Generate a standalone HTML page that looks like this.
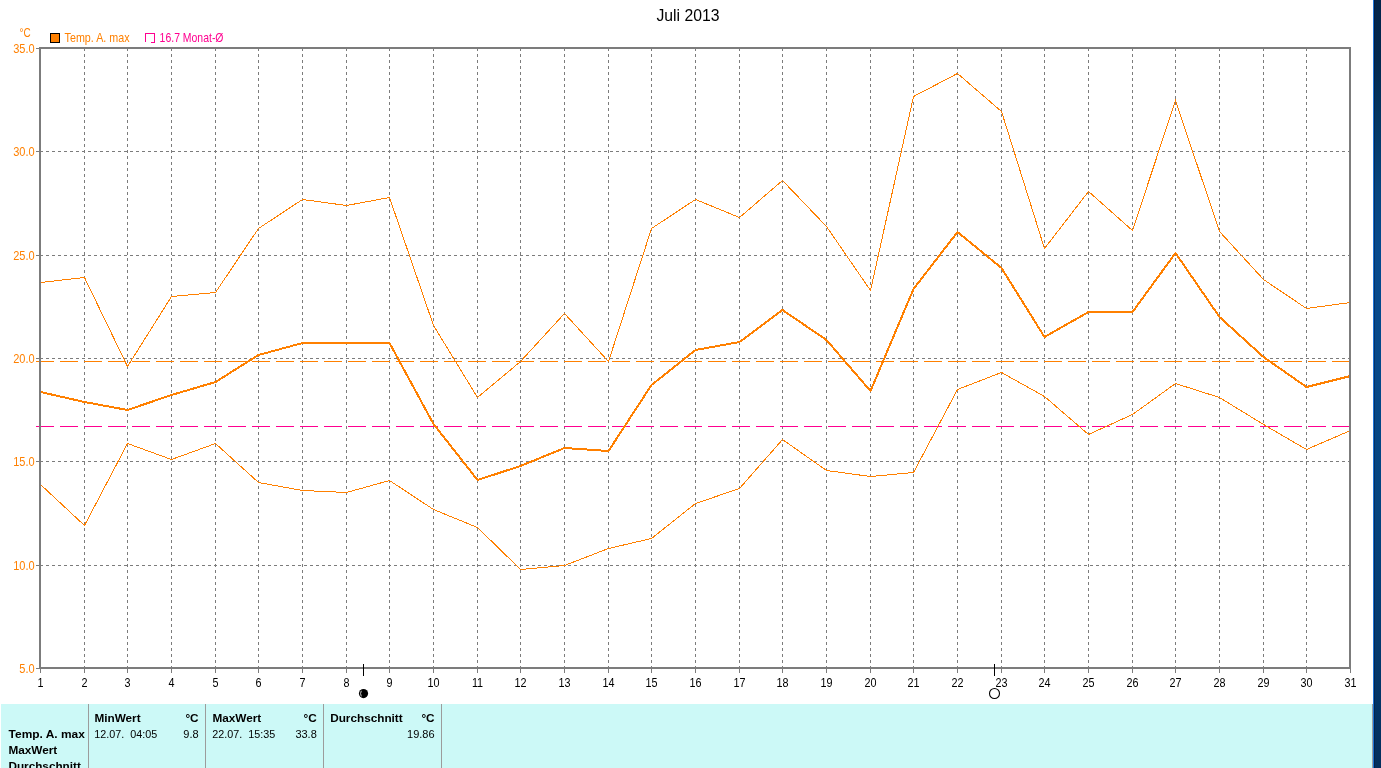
<!DOCTYPE html>
<html lang="de">
<head>
<meta charset="utf-8">
<title>Juli 2013</title>
<style>
html,body{margin:0;padding:0;}
body{width:1381px;height:768px;overflow:hidden;background:#fff;position:relative;font-family:"Liberation Sans",sans-serif;}
#strip{position:absolute;left:1373px;top:0;width:8px;height:768px;background:linear-gradient(to bottom,#02244a 0px,#03294f 60px,#043763 120px,#06457f 190px,#064a8e 250px,#064888 380px,#05447f 510px,#043a6f 640px,#032e5c 768px);}
#strip i{position:absolute;left:0;top:0;width:1px;height:768px;background:#1c74d8;}#strip u{position:absolute;left:1px;top:0;width:1px;height:768px;background:rgba(0,10,40,.35);}
</style>
</head>
<body>
<svg width="1381" height="768" viewBox="0 0 1381 768" style="position:absolute;left:0;top:0">
<g shape-rendering="crispEdges" fill="none">
<line x1="84.5" y1="48" x2="84.5" y2="667" stroke="#7c7c7c" stroke-width="1" stroke-dasharray="3 3"/>
<line x1="127.5" y1="48" x2="127.5" y2="667" stroke="#7c7c7c" stroke-width="1" stroke-dasharray="3 3"/>
<line x1="171.5" y1="48" x2="171.5" y2="667" stroke="#7c7c7c" stroke-width="1" stroke-dasharray="3 3"/>
<line x1="215.5" y1="48" x2="215.5" y2="667" stroke="#7c7c7c" stroke-width="1" stroke-dasharray="3 3"/>
<line x1="258.5" y1="48" x2="258.5" y2="667" stroke="#7c7c7c" stroke-width="1" stroke-dasharray="3 3"/>
<line x1="302.5" y1="48" x2="302.5" y2="667" stroke="#7c7c7c" stroke-width="1" stroke-dasharray="3 3"/>
<line x1="346.5" y1="48" x2="346.5" y2="667" stroke="#7c7c7c" stroke-width="1" stroke-dasharray="3 3"/>
<line x1="389.5" y1="48" x2="389.5" y2="667" stroke="#7c7c7c" stroke-width="1" stroke-dasharray="3 3"/>
<line x1="433.5" y1="48" x2="433.5" y2="667" stroke="#7c7c7c" stroke-width="1" stroke-dasharray="3 3"/>
<line x1="477.5" y1="48" x2="477.5" y2="667" stroke="#7c7c7c" stroke-width="1" stroke-dasharray="3 3"/>
<line x1="520.5" y1="48" x2="520.5" y2="667" stroke="#7c7c7c" stroke-width="1" stroke-dasharray="3 3"/>
<line x1="564.5" y1="48" x2="564.5" y2="667" stroke="#7c7c7c" stroke-width="1" stroke-dasharray="3 3"/>
<line x1="608.5" y1="48" x2="608.5" y2="667" stroke="#7c7c7c" stroke-width="1" stroke-dasharray="3 3"/>
<line x1="651.5" y1="48" x2="651.5" y2="667" stroke="#7c7c7c" stroke-width="1" stroke-dasharray="3 3"/>
<line x1="695.5" y1="48" x2="695.5" y2="667" stroke="#7c7c7c" stroke-width="1" stroke-dasharray="3 3"/>
<line x1="739.5" y1="48" x2="739.5" y2="667" stroke="#7c7c7c" stroke-width="1" stroke-dasharray="3 3"/>
<line x1="782.5" y1="48" x2="782.5" y2="667" stroke="#7c7c7c" stroke-width="1" stroke-dasharray="3 3"/>
<line x1="826.5" y1="48" x2="826.5" y2="667" stroke="#7c7c7c" stroke-width="1" stroke-dasharray="3 3"/>
<line x1="870.5" y1="48" x2="870.5" y2="667" stroke="#7c7c7c" stroke-width="1" stroke-dasharray="3 3"/>
<line x1="913.5" y1="48" x2="913.5" y2="667" stroke="#7c7c7c" stroke-width="1" stroke-dasharray="3 3"/>
<line x1="957.5" y1="48" x2="957.5" y2="667" stroke="#7c7c7c" stroke-width="1" stroke-dasharray="3 3"/>
<line x1="1001.5" y1="48" x2="1001.5" y2="667" stroke="#7c7c7c" stroke-width="1" stroke-dasharray="3 3"/>
<line x1="1044.5" y1="48" x2="1044.5" y2="667" stroke="#7c7c7c" stroke-width="1" stroke-dasharray="3 3"/>
<line x1="1088.5" y1="48" x2="1088.5" y2="667" stroke="#7c7c7c" stroke-width="1" stroke-dasharray="3 3"/>
<line x1="1132.5" y1="48" x2="1132.5" y2="667" stroke="#7c7c7c" stroke-width="1" stroke-dasharray="3 3"/>
<line x1="1175.5" y1="48" x2="1175.5" y2="667" stroke="#7c7c7c" stroke-width="1" stroke-dasharray="3 3"/>
<line x1="1219.5" y1="48" x2="1219.5" y2="667" stroke="#7c7c7c" stroke-width="1" stroke-dasharray="3 3"/>
<line x1="1263.5" y1="48" x2="1263.5" y2="667" stroke="#7c7c7c" stroke-width="1" stroke-dasharray="3 3"/>
<line x1="1306.5" y1="48" x2="1306.5" y2="667" stroke="#7c7c7c" stroke-width="1" stroke-dasharray="3 3"/>
<line x1="40" y1="565.5" x2="1349" y2="565.5" stroke="#7c7c7c" stroke-width="1" stroke-dasharray="3 3"/>
<line x1="40" y1="461.5" x2="1349" y2="461.5" stroke="#7c7c7c" stroke-width="1" stroke-dasharray="3 3"/>
<line x1="40" y1="358.5" x2="1349" y2="358.5" stroke="#7c7c7c" stroke-width="1" stroke-dasharray="3 3"/>
<line x1="40" y1="255.5" x2="1349" y2="255.5" stroke="#7c7c7c" stroke-width="1" stroke-dasharray="3 3"/>
<line x1="40" y1="151.5" x2="1349" y2="151.5" stroke="#7c7c7c" stroke-width="1" stroke-dasharray="3 3"/>
<line x1="36" y1="361.5" x2="1350" y2="361.5" stroke="#ff8000" stroke-width="1" stroke-dasharray="18 6"/>
<line x1="36" y1="426.5" x2="1350" y2="426.5" stroke="#ff0090" stroke-width="1" stroke-dasharray="18 6"/>
<polyline points="40.5,282.5 84.5,277.5 127.5,366.5 171.5,296.5 215.5,292.5 258.5,228.5 302.5,199.5 346.5,205.5 389.5,197.5 433.5,325.5 477.5,397.5 520.5,361.5 564.5,313.5 608.5,361.5 651.5,228.5 695.5,199.5 739.5,217.5 782.5,180.5 826.5,226.5 870.5,290.5 913.5,96.5 957.5,73.5 1001.5,111.5 1044.5,248.5 1088.5,191.5 1132.5,230.5 1175.5,100.5 1219.5,231.5 1263.5,279.5 1306.5,308.5 1350.5,302.5" stroke="#ff8000" stroke-width="1"/>
<polyline points="40.5,484.5 84.5,525.5 127.5,443.5 171.5,459.5 215.5,443.5 258.5,482.5 302.5,490.5 346.5,492.5 389.5,480.5 433.5,509.5 477.5,527.5 520.5,569.5 564.5,565.5 608.5,548.5 651.5,538.5 695.5,503.5 739.5,488.5 782.5,439.5 826.5,470.5 870.5,476.5 913.5,472.5 957.5,389.5 1001.5,372.5 1044.5,396.5 1088.5,434.5 1132.5,414.5 1175.5,383.5 1219.5,397.5 1263.5,424.5 1306.5,449.5 1350.5,430.5" stroke="#ff8000" stroke-width="1"/>
<polyline points="40.5,392.0 84.5,402.0 127.5,410.0 171.5,395.0 215.5,382.0 258.5,355.0 302.5,343.0 346.5,343.0 389.5,343.0 433.5,424.0 477.5,480.0 520.5,466.0 564.5,448.0 608.5,451.0 651.5,385.0 695.5,350.0 739.5,342.0 782.5,310.0 826.5,340.0 870.5,391.0 913.5,289.0 957.5,232.0 1001.5,268.0 1044.5,337.0 1088.5,312.0 1132.5,312.0 1175.5,253.0 1219.5,317.0 1263.5,357.0 1306.5,387.0 1350.5,376.0" stroke="#ff8000" stroke-width="2" stroke-linejoin="round"/>
<rect x="40" y="48" width="1310" height="620" stroke="#7c7c7c" stroke-width="2"/>
<line x1="36" y1="668.5" x2="40" y2="668.5" stroke="#7c7c7c" stroke-width="1"/>
<line x1="36" y1="565.5" x2="40" y2="565.5" stroke="#7c7c7c" stroke-width="1"/>
<line x1="36" y1="461.5" x2="40" y2="461.5" stroke="#7c7c7c" stroke-width="1"/>
<line x1="36" y1="358.5" x2="40" y2="358.5" stroke="#7c7c7c" stroke-width="1"/>
<line x1="36" y1="255.5" x2="40" y2="255.5" stroke="#7c7c7c" stroke-width="1"/>
<line x1="36" y1="151.5" x2="40" y2="151.5" stroke="#7c7c7c" stroke-width="1"/>
<line x1="36" y1="48.5" x2="40" y2="48.5" stroke="#7c7c7c" stroke-width="1"/>
<line x1="40.5" y1="669" x2="40.5" y2="673" stroke="#7c7c7c" stroke-width="1"/>
<line x1="84.5" y1="669" x2="84.5" y2="673" stroke="#7c7c7c" stroke-width="1"/>
<line x1="127.5" y1="669" x2="127.5" y2="673" stroke="#7c7c7c" stroke-width="1"/>
<line x1="171.5" y1="669" x2="171.5" y2="673" stroke="#7c7c7c" stroke-width="1"/>
<line x1="215.5" y1="669" x2="215.5" y2="673" stroke="#7c7c7c" stroke-width="1"/>
<line x1="258.5" y1="669" x2="258.5" y2="673" stroke="#7c7c7c" stroke-width="1"/>
<line x1="302.5" y1="669" x2="302.5" y2="673" stroke="#7c7c7c" stroke-width="1"/>
<line x1="346.5" y1="669" x2="346.5" y2="673" stroke="#7c7c7c" stroke-width="1"/>
<line x1="389.5" y1="669" x2="389.5" y2="673" stroke="#7c7c7c" stroke-width="1"/>
<line x1="433.5" y1="669" x2="433.5" y2="673" stroke="#7c7c7c" stroke-width="1"/>
<line x1="477.5" y1="669" x2="477.5" y2="673" stroke="#7c7c7c" stroke-width="1"/>
<line x1="520.5" y1="669" x2="520.5" y2="673" stroke="#7c7c7c" stroke-width="1"/>
<line x1="564.5" y1="669" x2="564.5" y2="673" stroke="#7c7c7c" stroke-width="1"/>
<line x1="608.5" y1="669" x2="608.5" y2="673" stroke="#7c7c7c" stroke-width="1"/>
<line x1="651.5" y1="669" x2="651.5" y2="673" stroke="#7c7c7c" stroke-width="1"/>
<line x1="695.5" y1="669" x2="695.5" y2="673" stroke="#7c7c7c" stroke-width="1"/>
<line x1="739.5" y1="669" x2="739.5" y2="673" stroke="#7c7c7c" stroke-width="1"/>
<line x1="782.5" y1="669" x2="782.5" y2="673" stroke="#7c7c7c" stroke-width="1"/>
<line x1="826.5" y1="669" x2="826.5" y2="673" stroke="#7c7c7c" stroke-width="1"/>
<line x1="870.5" y1="669" x2="870.5" y2="673" stroke="#7c7c7c" stroke-width="1"/>
<line x1="913.5" y1="669" x2="913.5" y2="673" stroke="#7c7c7c" stroke-width="1"/>
<line x1="957.5" y1="669" x2="957.5" y2="673" stroke="#7c7c7c" stroke-width="1"/>
<line x1="1001.5" y1="669" x2="1001.5" y2="673" stroke="#7c7c7c" stroke-width="1"/>
<line x1="1044.5" y1="669" x2="1044.5" y2="673" stroke="#7c7c7c" stroke-width="1"/>
<line x1="1088.5" y1="669" x2="1088.5" y2="673" stroke="#7c7c7c" stroke-width="1"/>
<line x1="1132.5" y1="669" x2="1132.5" y2="673" stroke="#7c7c7c" stroke-width="1"/>
<line x1="1175.5" y1="669" x2="1175.5" y2="673" stroke="#7c7c7c" stroke-width="1"/>
<line x1="1219.5" y1="669" x2="1219.5" y2="673" stroke="#7c7c7c" stroke-width="1"/>
<line x1="1263.5" y1="669" x2="1263.5" y2="673" stroke="#7c7c7c" stroke-width="1"/>
<line x1="1306.5" y1="669" x2="1306.5" y2="673" stroke="#7c7c7c" stroke-width="1"/>
<line x1="1350.5" y1="669" x2="1350.5" y2="673" stroke="#7c7c7c" stroke-width="1"/>
<line x1="363.5" y1="664" x2="363.5" y2="676" stroke="#000" stroke-width="1"/>
<line x1="994.5" y1="664" x2="994.5" y2="676" stroke="#000" stroke-width="1"/>
<rect x="50.5" y="33.5" width="9" height="9" fill="#ff8000" stroke="#000" stroke-width="1"/>
<path d="M145.5 42 V33.5 H154.5 V42.5 H151" stroke="#ff0090" stroke-width="1"/>
</g>
<circle cx="363.5" cy="693.6" r="4.6" fill="#000"/>
<path d="M361.3 690.8 Q359.8 693.6 361.3 696.4" stroke="#fff" stroke-width="0.8" fill="none"/>
<circle cx="994.5" cy="693.5" r="5" fill="#fff" stroke="#000" stroke-width="1.1"/>
<g shape-rendering="crispEdges">
<rect x="1" y="704" width="1371" height="64" fill="#ccf9f7"/>
<rect x="88" y="704" width="1" height="64" fill="#9c9c9c"/>
<rect x="205" y="704" width="1" height="64" fill="#9c9c9c"/>
<rect x="323" y="704" width="1" height="64" fill="#9c9c9c"/>
<rect x="441" y="704" width="1" height="64" fill="#9c9c9c"/>
<rect x="1372" y="704" width="1" height="64" fill="#a0a0a0"/>
</g>
<g font-family="'Liberation Sans', sans-serif">
<text transform="translate(688 20.5) scale(0.985 1)" font-size="16" fill="#000" text-anchor="middle">Juli 2013</text>
<text transform="translate(19.6 37) scale(0.83 1)" font-size="12" fill="#ff8000" text-anchor="start">°C</text>
<text transform="translate(34.6 673) scale(0.92 1)" font-size="12" fill="#ff8000" text-anchor="end">5.0</text>
<text transform="translate(34.6 570) scale(0.92 1)" font-size="12" fill="#ff8000" text-anchor="end">10.0</text>
<text transform="translate(34.6 466) scale(0.92 1)" font-size="12" fill="#ff8000" text-anchor="end">15.0</text>
<text transform="translate(34.6 363) scale(0.92 1)" font-size="12" fill="#ff8000" text-anchor="end">20.0</text>
<text transform="translate(34.6 260) scale(0.92 1)" font-size="12" fill="#ff8000" text-anchor="end">25.0</text>
<text transform="translate(34.6 156) scale(0.92 1)" font-size="12" fill="#ff8000" text-anchor="end">30.0</text>
<text transform="translate(34.6 53) scale(0.92 1)" font-size="12" fill="#ff8000" text-anchor="end">35.0</text>
<text transform="translate(64.6 42) scale(0.895 1)" font-size="12" fill="#ff8000" text-anchor="start">Temp. A. max</text>
<text transform="translate(159.6 42) scale(0.871 1)" font-size="12" fill="#ff0090" text-anchor="start">16.7 Monat-Ø</text>
<text transform="translate(40.5 687) scale(0.9 1)" font-size="12" fill="#000" text-anchor="middle">1</text>
<text transform="translate(84.5 687) scale(0.9 1)" font-size="12" fill="#000" text-anchor="middle">2</text>
<text transform="translate(127.5 687) scale(0.9 1)" font-size="12" fill="#000" text-anchor="middle">3</text>
<text transform="translate(171.5 687) scale(0.9 1)" font-size="12" fill="#000" text-anchor="middle">4</text>
<text transform="translate(215.5 687) scale(0.9 1)" font-size="12" fill="#000" text-anchor="middle">5</text>
<text transform="translate(258.5 687) scale(0.9 1)" font-size="12" fill="#000" text-anchor="middle">6</text>
<text transform="translate(302.5 687) scale(0.9 1)" font-size="12" fill="#000" text-anchor="middle">7</text>
<text transform="translate(346.5 687) scale(0.9 1)" font-size="12" fill="#000" text-anchor="middle">8</text>
<text transform="translate(389.5 687) scale(0.9 1)" font-size="12" fill="#000" text-anchor="middle">9</text>
<text transform="translate(433.5 687) scale(0.9 1)" font-size="12" fill="#000" text-anchor="middle">10</text>
<text transform="translate(477.5 687) scale(0.9 1)" font-size="12" fill="#000" text-anchor="middle">11</text>
<text transform="translate(520.5 687) scale(0.9 1)" font-size="12" fill="#000" text-anchor="middle">12</text>
<text transform="translate(564.5 687) scale(0.9 1)" font-size="12" fill="#000" text-anchor="middle">13</text>
<text transform="translate(608.5 687) scale(0.9 1)" font-size="12" fill="#000" text-anchor="middle">14</text>
<text transform="translate(651.5 687) scale(0.9 1)" font-size="12" fill="#000" text-anchor="middle">15</text>
<text transform="translate(695.5 687) scale(0.9 1)" font-size="12" fill="#000" text-anchor="middle">16</text>
<text transform="translate(739.5 687) scale(0.9 1)" font-size="12" fill="#000" text-anchor="middle">17</text>
<text transform="translate(782.5 687) scale(0.9 1)" font-size="12" fill="#000" text-anchor="middle">18</text>
<text transform="translate(826.5 687) scale(0.9 1)" font-size="12" fill="#000" text-anchor="middle">19</text>
<text transform="translate(870.5 687) scale(0.9 1)" font-size="12" fill="#000" text-anchor="middle">20</text>
<text transform="translate(913.5 687) scale(0.9 1)" font-size="12" fill="#000" text-anchor="middle">21</text>
<text transform="translate(957.5 687) scale(0.9 1)" font-size="12" fill="#000" text-anchor="middle">22</text>
<text transform="translate(1001.5 687) scale(0.9 1)" font-size="12" fill="#000" text-anchor="middle">23</text>
<text transform="translate(1044.5 687) scale(0.9 1)" font-size="12" fill="#000" text-anchor="middle">24</text>
<text transform="translate(1088.5 687) scale(0.9 1)" font-size="12" fill="#000" text-anchor="middle">25</text>
<text transform="translate(1132.5 687) scale(0.9 1)" font-size="12" fill="#000" text-anchor="middle">26</text>
<text transform="translate(1175.5 687) scale(0.9 1)" font-size="12" fill="#000" text-anchor="middle">27</text>
<text transform="translate(1219.5 687) scale(0.9 1)" font-size="12" fill="#000" text-anchor="middle">28</text>
<text transform="translate(1263.5 687) scale(0.9 1)" font-size="12" fill="#000" text-anchor="middle">29</text>
<text transform="translate(1306.5 687) scale(0.9 1)" font-size="12" fill="#000" text-anchor="middle">30</text>
<text transform="translate(1350.5 687) scale(0.9 1)" font-size="12" fill="#000" text-anchor="middle">31</text>
<text transform="translate(8.6 738) scale(1.086 1)" font-size="11" font-weight="bold" fill="#000" text-anchor="start">Temp. A. max</text>
<text transform="translate(8.4 754) scale(1.07 1)" font-size="11" font-weight="bold" fill="#000" text-anchor="start">MaxWert</text>
<text transform="translate(8.4 770) scale(1.07 1)" font-size="11" font-weight="bold" fill="#000" text-anchor="start">Durchschnitt</text>
<text transform="translate(94.4 722) scale(1.07 1)" font-size="11" font-weight="bold" fill="#000" text-anchor="start">MinWert</text>
<text transform="translate(198.6 722) scale(1.07 1)" font-size="11" font-weight="bold" fill="#000" text-anchor="end">°C</text>
<text transform="translate(94.3 738) scale(0.98 1)" font-size="11" fill="#000" text-anchor="start" xml:space="preserve">12.07.  04:05</text>
<text transform="translate(198.6 738) scale(1.0 1)" font-size="11" fill="#000" text-anchor="end" xml:space="preserve">9.8</text>
<text transform="translate(212.4 722) scale(1.07 1)" font-size="11" font-weight="bold" fill="#000" text-anchor="start">MaxWert</text>
<text transform="translate(316.8 722) scale(1.07 1)" font-size="11" font-weight="bold" fill="#000" text-anchor="end">°C</text>
<text transform="translate(212.3 738) scale(0.98 1)" font-size="11" fill="#000" text-anchor="start" xml:space="preserve">22.07.  15:35</text>
<text transform="translate(316.8 738) scale(1.0 1)" font-size="11" fill="#000" text-anchor="end" xml:space="preserve">33.8</text>
<text transform="translate(330.2 722) scale(1.07 1)" font-size="11" font-weight="bold" fill="#000" text-anchor="start">Durchschnitt</text>
<text transform="translate(434.6 722) scale(1.07 1)" font-size="11" font-weight="bold" fill="#000" text-anchor="end">°C</text>
<text transform="translate(434.6 738) scale(1.0 1)" font-size="11" fill="#000" text-anchor="end" xml:space="preserve">19.86</text>
</g>
</svg>
<div id="strip"><i></i><u></u></div>
</body>
</html>
